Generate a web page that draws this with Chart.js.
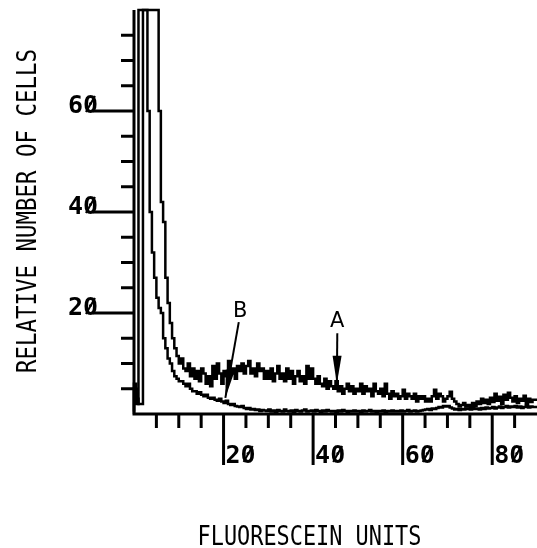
<!DOCTYPE html>
<html lang="en">

<head>
    <meta charset="UTF-8" />
    <title>Fluorescein histogram</title>
    <style>
        body { margin: 0; background: #fff; }
        #wrap { width: 537px; height: 548px; }
    </style>
</head>

<body>
    <div id="wrap"><canvas id="histChart"></canvas></div>

    <script src="https://cdn.jsdelivr.net/npm/chart.js"></script>

    <script>
        // channel width in fluorescein units, counts per channel
        const binWidth = 0.5;
        const xMax = 90;
        const yMax = 80;

        const countsA = [
            0.5, 5, 2, 80, 80, 80, 80, 80, 80, 80,
            80, 80, 60, 42, 38, 27, 22, 18, 15, 13,
            11.5, 10, 11, 9, 8.5, 10, 7.5, 9, 7, 8.5,
            6.5, 9, 8, 6, 7.5, 5.5, 9.5, 7, 10, 8,
            6, 8.5, 7.5, 10.5, 8, 9, 7, 9.5, 8.5, 10,
            8, 9.5, 10.5, 8, 9, 7.5, 10, 8.5, 9, 7,
            8.5, 7, 9, 6.5, 8, 9.5, 7, 8, 6.5, 9,
            7, 8.5, 6, 7.5, 8.5, 6.5, 7.5, 6, 9.5, 7,
            9, 7, 6, 7.5, 6, 5.5, 7, 5, 6.5, 5.5,
            5, 6.5, 4.5, 5.5, 4, 5, 6, 4.5, 5.5, 4,
            5, 4.5, 6, 4, 5.5, 4.5, 5, 3.5, 6, 4.5,
            4, 5, 3.5, 6, 4, 3, 4.5, 3.5, 4, 3,
            3.5, 4.8, 3, 4, 3.5, 3, 4, 2.5, 3.5, 3,
            3.5, 2.5, 3, 2.5, 3.5, 4.8, 3, 4, 3.5, 2.5,
            3, 3.5, 4.4, 3, 2.5, 2, 1.5, 1.8, 2.2, 1.5,
            1.8, 1.4, 2.2, 1.6, 2.5, 2, 3, 2.2, 2.8, 2,
            3.2, 2.4, 4, 2.6, 3.4, 2, 3.8, 2.8, 4.2, 3.2,
            2.5, 3.5, 2.2, 3, 2.6, 3.6, 2, 3, 2.4, 2.8
        ];

        const countsB = [
            0, 6, 3, 2, 2, 80, 80, 60, 40, 32,
            27, 23, 21, 20, 15, 13, 11, 10, 8.5, 7.5,
            7, 6.5, 6.5, 6, 5.5, 6, 5, 4.5, 4.5, 4,
            4.3, 3.8, 3.5, 3.8, 3.2, 3, 3.2, 2.8, 2.6, 3,
            2.5, 2.2, 2.6, 2, 1.8, 2, 1.6, 1.5, 1.4, 1.6,
            1.2, 1, 1.2, 0.9, 1, 0.8, 0.9, 0.6, 0.8, 0.7,
            0.6, 0.9, 0.5, 0.7, 0.4, 0.8, 0.6, 0.5, 0.9, 0.6,
            0.5, 0.7, 0.4, 0.8, 0.6, 0.5, 0.7, 0.9, 0.5, 0.6,
            0.7, 0.5, 0.8, 0.6, 0.4, 0.7, 0.5, 0.8, 0.6, 0.5,
            0.6, 0.4, 0.7, 0.5, 0.8, 0.6, 0.4, 0.6, 0.5, 0.7,
            0.5, 0.6, 0.4, 0.7, 0.5, 0.6, 0.8, 0.5, 0.6, 0.4,
            0.6, 0.5, 0.7, 0.4, 0.6, 0.5, 0.7, 0.5, 0.6, 0.5,
            0.7, 0.5, 0.6, 0.8, 0.5, 0.6, 0.7, 0.5, 0.6, 0.7,
            0.8, 0.9, 1.0, 0.8, 1.1, 1.0, 1.2, 1.4, 1.3, 1.6,
            1.5, 1.6, 1.3, 1.1, 0.9, 1.0, 0.8, 1.0, 0.9, 1.1,
            1.0, 0.9, 1.2, 1.0, 1.1, 0.9, 1.2, 1.0, 1.3, 1.1,
            1.2, 1.4, 1.1, 1.3, 1.5, 1.2, 1.4, 1.6, 1.3, 1.5,
            1.4, 1.6, 1.3, 1.5, 1.2, 1.4, 1.6, 1.3, 1.5, 1.4
        ];

        const xTickValues = [20, 40, 60, 80];
        const xTickLabels = ['20', '40', '60', '80'];
        const yTickValues = [20, 40, 60];
        const yTickLabels = ['20', '40', '60'];
        const minorStep = 5;

        const xTitle = 'FLUORESCEIN UNITS';
        const yTitle = 'RELATIVE NUMBER OF CELLS';

        // arrows: label, label position, arrow start, arrow tip (data units)
        const markers = [
            { text: 'A', lx: 45.4, ly: 17.3, x0: 45.4, y0: 16, x1: 45.3, y1: 6.0 },
            { text: 'B', lx: 23.7, ly: 19.2, x0: 23.4, y0: 18.2, x1: 20.4, y1: 3.2 }
        ];

        // step histogram points: each channel holds its value until the next one
        function toSteps(counts) {
            const pts = counts.map((v, i) => ({ x: i * binWidth, y: v }));
            pts.push({ x: xMax, y: counts[counts.length - 1] });
            return pts;
        }

        // old plotter style: zeros get a slash through them
        function labelWithSlash(ctx, text, x, y, align) {
            ctx.textAlign = align;
            ctx.fillText(text, x, y);
            const w = ctx.measureText(text).width;
            const left = align === 'right' ? x - w : x;
            const idx = text.indexOf('0');
            if (idx < 0) return;
            const cw = w / text.length;
            const cx = left + cw * idx;
            ctx.save();
            ctx.lineWidth = 2;
            ctx.beginPath();
            ctx.moveTo(cx + cw * 0.2, y - 1);
            ctx.lineTo(cx + cw * 0.8, y - 17);
            ctx.stroke();
            ctx.restore();
        }

        const axesPlugin = {
            id: 'oldAxes',
            afterDatasetsDraw(chart) {
                const { ctx } = chart;
                const xs = chart.scales.x;
                const ys = chart.scales.y;
                const x0 = xs.getPixelForValue(0);
                const y0 = ys.getPixelForValue(0);

                ctx.save();
                ctx.strokeStyle = '#000';
                ctx.fillStyle = '#000';
                ctx.lineWidth = 3;
                ctx.lineCap = 'butt';

                // axis lines
                ctx.beginPath();
                ctx.moveTo(x0, ys.getPixelForValue(yMax));
                ctx.lineTo(x0, y0);
                ctx.lineTo(xs.getPixelForValue(xMax), y0);
                ctx.stroke();

                // y ticks
                for (let v = minorStep; v < yMax; v += minorStep) {
                    const py = ys.getPixelForValue(v);
                    const major = yTickValues.includes(v);
                    ctx.beginPath();
                    ctx.moveTo(x0 - (major ? 41 : 13), py);
                    ctx.lineTo(x0, py);
                    ctx.stroke();
                }
                // x ticks
                for (let v = minorStep; v < xMax; v += minorStep) {
                    const px = xs.getPixelForValue(v);
                    const major = xTickValues.includes(v);
                    ctx.beginPath();
                    ctx.moveTo(px, y0);
                    ctx.lineTo(px, y0 + (major ? 51 : 14));
                    ctx.stroke();
                }

                // tick labels
                ctx.font = 'bold 25px "DejaVu Sans Mono"';
                ctx.textBaseline = 'alphabetic';
                yTickValues.forEach((v, i) => {
                    labelWithSlash(ctx, yTickLabels[i], x0 - 36, ys.getPixelForValue(v) + 2, 'right');
                });
                xTickValues.forEach((v, i) => {
                    labelWithSlash(ctx, xTickLabels[i], xs.getPixelForValue(v) + 2, y0 + 49, 'left');
                });

                // axis titles, tall narrow lettering
                ctx.font = '27px "DejaVu Sans Mono"';
                ctx.textAlign = 'center';
                ctx.save();
                ctx.translate((xs.left + xs.right) / 2 - 26, 545);
                ctx.scale(0.81, 1);
                ctx.fillText(xTitle, 0, 0);
                ctx.restore();

                ctx.save();
                ctx.translate(36, 211);
                ctx.rotate(-Math.PI / 2);
                ctx.scale(0.83, 1);
                ctx.fillText(yTitle, 0, 0);
                ctx.restore();

                // A / B arrows
                ctx.font = '21px "DejaVu Sans"';
                ctx.lineWidth = 2;
                markers.forEach(m => {
                    const ax = xs.getPixelForValue(m.x0), ay = ys.getPixelForValue(m.y0);
                    const bx = xs.getPixelForValue(m.x1), by = ys.getPixelForValue(m.y1);
                    ctx.textAlign = 'center';
                    ctx.fillText(m.text, xs.getPixelForValue(m.lx), ys.getPixelForValue(m.ly));
                    ctx.beginPath();
                    ctx.moveTo(ax, ay);
                    ctx.lineTo(bx, by);
                    ctx.stroke();
                    const ang = Math.atan2(by - ay, bx - ax);
                    const len = 28, half = 4.5;
                    const hx = bx - len * Math.cos(ang), hy = by - len * Math.sin(ang);
                    ctx.beginPath();
                    ctx.moveTo(bx, by);
                    ctx.lineTo(hx + half * Math.sin(ang), hy - half * Math.cos(ang));
                    ctx.lineTo(hx - half * Math.sin(ang), hy + half * Math.cos(ang));
                    ctx.closePath();
                    ctx.fill();
                });

                ctx.restore();
            }
        };

        const lineStyle = {
            borderColor: '#000',
            borderWidth: 2.5,
            stepped: 'after',
            pointRadius: 0,
            fill: false,
            clip: 4,
            borderJoinStyle: 'miter'
        };

        const histChart = new Chart(document.getElementById('histChart'), {
            type: 'line',
            data: {
                datasets: [
                    Object.assign({ label: 'A', data: toSteps(countsA) }, lineStyle),
                    Object.assign({ label: 'B', data: toSteps(countsB) }, lineStyle)
                ]
            },
            options: {
                responsive: true,
                maintainAspectRatio: false,
                animation: false,
                devicePixelRatio: 1,
                layout: { padding: { left: 134, right: 0, top: 10, bottom: 134 } },
                plugins: {
                    legend: { display: false },
                    tooltip: { enabled: false }
                },
                scales: {
                    x: { type: 'linear', min: 0, max: xMax, display: false },
                    y: { min: 0, max: yMax, display: false }
                }
            },
            plugins: [axesPlugin]
        });
    </script>
</body>

</html>
